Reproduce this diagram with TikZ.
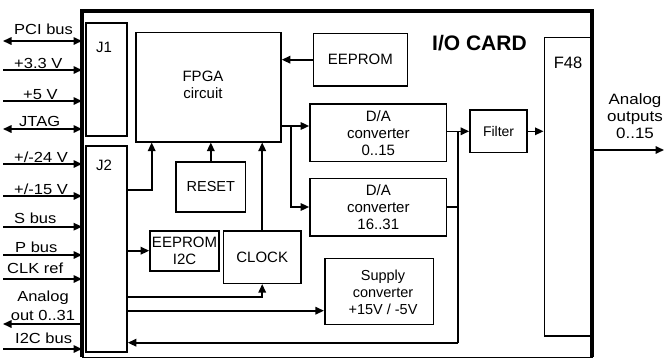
\documentclass[tikz,border=0pt]{standalone}
\usepackage{fontspec}
\setmainfont{Liberation Sans}
\newfontfamily\lblfont{Liberation Sans}[FakeStretch=1.13]
\usetikzlibrary{arrows.meta}
\newcommand\myfs[1]{\fontsize{#1}{17}\selectfont}
\begin{document}
\begin{tikzpicture}[x=1pt,y=-1pt,
  blk/.style={draw,line width=1.6pt,inner sep=0pt,align=center},
  lbl/.style={inner sep=0pt,font=\lblfont\myfs{14.6}},
  arr/.style={line width=1.6pt,-{Triangle[length=8.5pt,width=7.5pt]}},
  darr/.style={line width=1.6pt,{Triangle[length=8.5pt,width=7.5pt]}-{Triangle[length=8.5pt,width=7.5pt]}},
  ln/.style={line width=1.6pt}]
\fill[white] (0,0) rectangle (664,359);
\useasboundingbox (0,0) rectangle (664,359);
% card
\node[draw,line width=1pt,minimum width=510pt,minimum height=346pt,inner sep=0pt,outer sep=0pt] (card) at (337,184) {};
\draw[line width=3.2pt] (card.south west) -- (card.north west) -- (card.north east) -- (card.south east);
\node[inner sep=0pt,anchor=base west,font=\myfs{21}\bfseries] (title) at (432,50) {I/O CARD};
% connectors boxes
\node[blk,minimum width=41pt,minimum height=113pt] (j1) at (106.5,79.5) {};
\node[inner sep=0pt,anchor=base west,font=\myfs{15}] (j1t) at (96,52.3) {J1};
\node[blk,minimum width=41pt,minimum height=206pt] (j2) at (106.5,249) {};
\node[inner sep=0pt,anchor=base west,font=\myfs{15}] (j2t) at (96,170) {J2};
% blocks
\node[blk,minimum width=145pt,minimum height=109.4pt] (fpga) at (208.5,87) {};
\node[inner sep=0pt,align=center,font=\myfs{15}] (fpgat) at (203,85) {FPGA\\circuit};
\node[blk,minimum width=94pt,minimum height=52.7pt,font=\myfs{15}] (eep) at (360.3,59.7) {EEPROM};
\node[blk,minimum width=136.7pt,minimum height=57.7pt,font=\myfs{15}] (da1) at (378.3,132.8) {D/A\\converter\\0..15};
\node[blk,minimum width=136.7pt,minimum height=57.4pt,font=\myfs{15}] (da2) at (378.3,207) {D/A\\converter\\16..31};
\node[blk,minimum width=57.3pt,minimum height=42.7pt,font=\myfs{14}] (filt) at (498.6,131.3) {Filter};
\node[blk,minimum width=47.4pt,minimum height=298.3pt] (f48) at (568,186.8) {};
\node[inner sep=0pt,anchor=base,font=\myfs{16.5}] (f48t) at (568,68) {F48};
\node[blk,minimum width=69.7pt,minimum height=50pt,font=\myfs{14.5}] (reset) at (210.8,186.7) {RESET};
\node[blk,minimum width=69pt,minimum height=40pt,font=\myfs{15}] (eep2) at (184.5,250.7) {EEPROM\\I2C};
\node[blk,minimum width=77.7pt,minimum height=52.6pt,font=\myfs{15}] (clock) at (262.2,257) {CLOCK};
\node[blk,minimum width=108.6pt,minimum height=66pt] (sup) at (379,291.3) {};
\node[inner sep=0pt,align=center,font=\myfs{14.5}] (supt) at (383,292) {Supply\\converter\\+15V / -5V};
% routing coordinates
\coordinate (fo) at (281,126);
\coordinate (br) at (291,126);
\coordinate (bus) at (457.7,131.3);
\coordinate (bot) at (457.7,342.7);
\coordinate (c1) at (151.7,190);
\coordinate (c2) at (0,296.7);
\coordinate (c3) at (0,310.7);
\coordinate (ao1) at (592,150);
\coordinate (ao2) at (664,150);
% internal connectors
\draw[arr] (eep.west) -- (eep.west -| fpga.east);
\draw[arr] (fo) -- (fo -| da1.west);
\draw[arr] (br) |- (da2.west);
\draw[arr] (da1.east |- filt.west) -- (filt.west);
\draw[ln] (bus) -- (bot);
\draw[ln] (da2.east) -- (da2.east -| bus);
\draw[arr] (bot) -- (bot -| j2.east);
\draw[arr] (filt.east) -- (filt.east -| f48.west);
\draw[arr] (ao1) -- (ao2);
\node[inner sep=0pt,align=center,font=\lblfont\myfs{15}] (aolbl) at (635,116.5) {Analog\\outputs\\0..15};
\draw[arr] (c1 -| j2.east) -- (c1) -- (c1 |- fpga.south);
\draw[arr] (reset.north) -- (reset.north |- fpga.south);
\draw[arr] (clock.north) -- (clock.north |- fpga.south);
\draw[arr] (eep2.west -| j2.east) -- (eep2.west);
\draw[arr] (j2.east |- c2) -| (clock.south);
\draw[arr] (j2.east |- c3) -- (sup.west |- c3);
% external signals
\coordinate (e1) at (3,41);
\coordinate (e2) at (3,70);
\coordinate (e3) at (3,101);
\coordinate (e4) at (3,129);
\coordinate (e5) at (3,164);
\coordinate (e6) at (3,196);
\coordinate (e7) at (3,226.7);
\coordinate (e8) at (3,255);
\coordinate (e9) at (3,279);
\coordinate (e10) at (3,324);
\coordinate (e11) at (3,349);
\draw[darr] (e1) -- (e1 -| card.west);
\draw[arr] (e2) -- (e2 -| card.west);
\draw[arr] (e3) -- (e3 -| card.west);
\draw[darr] (e4) -- (e4 -| card.west);
\draw[arr] (e5) -- (e5 -| card.west);
\draw[arr] (e6) -- (e6 -| card.west);
\draw[arr] (e7) -- (e7 -| card.west);
\draw[arr] (e8) -- (e8 -| card.west);
\draw[arr] (e9) -- (e9 -| card.west);
\draw[arr] (e10 -| card.west) -- (e10);
\draw[arr] (e11) -- (e11 -| card.west);
\node[lbl,anchor=base west] (l1) at (14,34) {PCI bus};
\node[lbl,anchor=base west] (l2) at (14,68) {+3.3 V};
\node[lbl,anchor=base west] (l3) at (23,99) {+5 V};
\node[lbl,anchor=base west] (l4) at (19,126) {JTAG};
\node[lbl,anchor=base west] (l5) at (14,162) {+/-24 V};
\node[lbl,anchor=base west] (l6) at (14,194) {+/-15 V};
\node[lbl,anchor=base west] (l7) at (14,223.5) {S bus};
\node[lbl,anchor=base west] (l8) at (15,252) {P bus};
\node[lbl,anchor=base west] (l9) at (7,273.5) {CLK ref};
\node[lbl,anchor=base] (l10) at (43,301) {Analog};
\node[lbl,anchor=base] (l10b) at (43,320) {out 0..31};
\node[lbl,anchor=base west] (l11) at (15,343) {I2C bus};
\end{tikzpicture}
\end{document}
